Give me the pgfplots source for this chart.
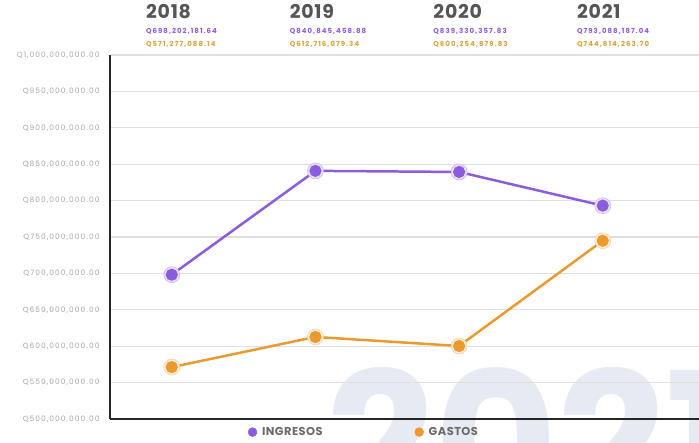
\documentclass[border=0pt]{standalone}
\usepackage{pgfplots}
\pgfplotsset{compat=1.18}
\usepackage{fontspec}
\setmainfont{Poppins}

\definecolor{ingreso}{HTML}{8C5CDE}
\definecolor{gasto}{HTML}{EB9A2E}
\definecolor{gastotxt}{HTML}{D9A13A}
\definecolor{anio}{HTML}{555555}
\definecolor{marca}{HTML}{E6EBF3}

\begin{document}
\begin{tikzpicture}[
  ynode/.style={anchor=west, inner sep=0pt, text=anio,
    font=\fontsize{19}{20}\selectfont\bfseries\addfontfeatures{LetterSpace=4}},
  inode/.style={anchor=west, inner sep=0pt, text=ingreso,
    font=\fontsize{7}{8}\selectfont\bfseries\addfontfeatures{LetterSpace=15}},
  gnode/.style={anchor=west, inner sep=0pt, text=gastotxt,
    font=\fontsize{7}{8}\selectfont\bfseries\addfontfeatures{LetterSpace=15}},
]
\path[use as bounding box] (0,0) rectangle (699bp,443bp);
% marca de agua
\node[anchor=north west, inner sep=0pt, text=marca, font=\fontsize{190}{190}\selectfont\bfseries]
  at (326bp,76bp) {2021};
\begin{axis}[
  at={(110bp,24bp)}, anchor=south west,
  scale only axis, width=589bp, height=364bp,
  xmin=-0.43, xmax=3.67, ymin=500, ymax=1000,
  axis x line*=bottom, axis y line*=left,
  axis line style={line width=1.2pt, black!85},
  xtick=\empty,
  ytick={500,550,...,1000},
  yticklabels={{Q500,000,000.00},{Q550,000,000.00},{Q600,000,000.00},{Q650,000,000.00},
    {Q700,000,000.00},{Q750,000,000.00},{Q800,000,000.00},{Q850,000,000.00},
    {Q900,000,000.00},{Q950,000,000.00},{Q1,000,000,000.00}},
  yticklabel style={font=\fontsize{7.5}{8}\selectfont\addfontfeatures{LetterSpace=14},
    text=black!35, xshift=-7bp},
  ytick style={draw=none},
  ymajorgrids, grid style={line width=1.2pt, black!12},
  clip=false,
  legend columns=2,
  legend style={draw=none, fill=none, at={(axis description cs:0.229,-0.036)}, anchor=west,
    font=\fontsize{11.5}{12}\selectfont\bfseries\addfontfeatures{LetterSpace=4}\color{black!58},
    /tikz/every odd column/.append style={column sep=3bp},
    /tikz/every even column/.append style={column sep=90bp}},
]
% halos
\addplot[forget plot, only marks, mark=*, mark size=8pt,
  mark options={fill=ingreso!18, draw=ingreso!45, line width=0.6pt}]
  coordinates {(0,698.20218164) (1,840.84545888) (2,839.33035783) (3,793.08818704)};
\addplot[forget plot, only marks, mark=*, mark size=8pt,
  mark options={fill=gasto!18, draw=gasto!45, line width=0.6pt}]
  coordinates {(0,571.27708814) (1,612.71607934) (2,600.25487983) (3,744.81426370)};
% series
\addplot[forget plot, ingreso, line width=2.5pt, mark=*, mark size=4.8pt,
  mark options={fill=ingreso, draw=ingreso}]
  coordinates {(0,698.20218164) (1,840.84545888) (2,839.33035783) (3,793.08818704)};
\addplot[forget plot, gasto, line width=2.5pt, mark=*, mark size=4.8pt,
  mark options={fill=gasto, draw=gasto}]
  coordinates {(0,571.27708814) (1,612.71607934) (2,600.25487983) (3,744.81426370)};
\addlegendimage{only marks, mark=*, mark size=4.5pt, ingreso}
\addlegendentry{INGRESOS}
\addlegendimage{only marks, mark=*, mark size=4.5pt, gasto}
\addlegendentry{GASTOS}
% encabezados
\node[ynode] at (axis cs:-0.18,1059.8) {2018};
\node[inode] at (axis cs:-0.18,1032.3) {Q698,202,181.64};
\node[gnode] at (axis cs:-0.18,1014.4) {Q571,277,088.14};
\node[ynode] at (axis cs:0.82,1059.8) {2019};
\node[inode] at (axis cs:0.82,1032.3) {Q840,845,458.88};
\node[gnode] at (axis cs:0.82,1014.4) {Q612,716,079.34};
\node[ynode] at (axis cs:1.82,1059.8) {2020};
\node[inode] at (axis cs:1.82,1032.3) {Q839,330,357.83};
\node[gnode] at (axis cs:1.82,1014.4) {Q600,254,879.83};
\node[ynode] at (axis cs:2.82,1059.8) {2021};
\node[inode] at (axis cs:2.82,1032.3) {Q793,088,187.04};
\node[gnode] at (axis cs:2.82,1014.4) {Q744,814,263.70};
\end{axis}
\end{tikzpicture}
\end{document}
